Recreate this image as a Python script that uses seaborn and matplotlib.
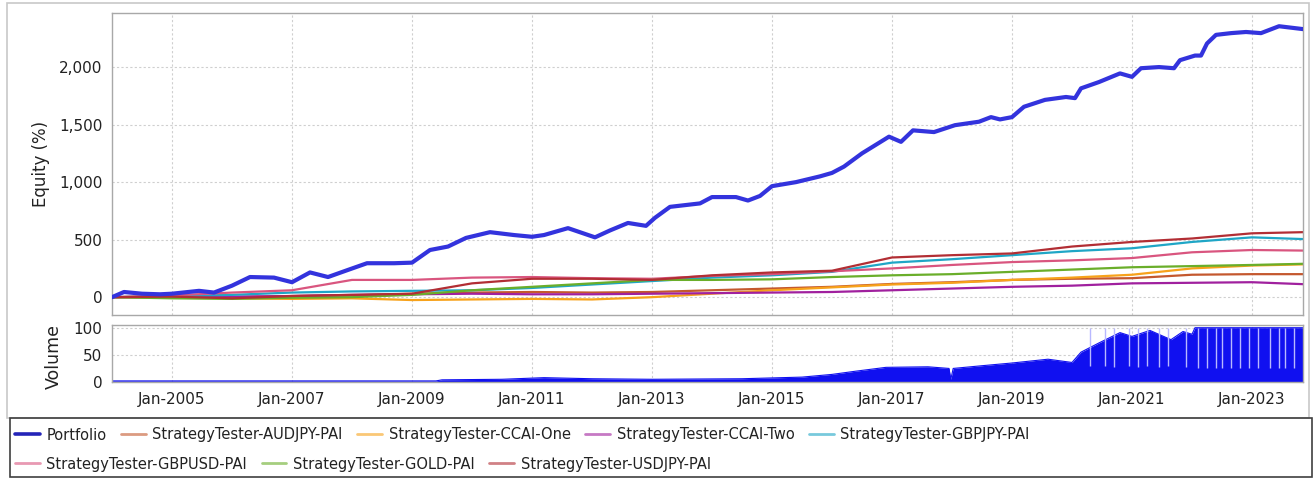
import matplotlib
matplotlib.use("Agg")
import matplotlib.pyplot as plt
from matplotlib.lines import Line2D
from matplotlib.patches import Rectangle
from matplotlib.ticker import FuncFormatter
import seaborn as sns
import pandas as pd

# ---------------- data ----------------
portfolio_years = [2004.00, 2004.20, 2004.50, 2004.80, 2005.00, 2005.45, 2005.70, 2006.00,
                   2006.30, 2006.70, 2007.00, 2007.30, 2007.60, 2007.95, 2008.25, 2008.70,
                   2009.00, 2009.30, 2009.60, 2009.90, 2010.30, 2010.70, 2011.00, 2011.20,
                   2011.60, 2012.05, 2012.30, 2012.60, 2012.90, 2013.05, 2013.30, 2013.80,
                   2014.00, 2014.40, 2014.60, 2014.80, 2015.00, 2015.40, 2015.80, 2016.00,
                   2016.20, 2016.50, 2016.95, 2017.15, 2017.35, 2017.70, 2018.05, 2018.45,
                   2018.65, 2018.80, 2019.00, 2019.20, 2019.55, 2019.90, 2020.05, 2020.15,
                   2020.45, 2020.80, 2021.00, 2021.15, 2021.45, 2021.70, 2021.80, 2022.05,
                   2022.15, 2022.25, 2022.40, 2022.65, 2022.90, 2023.15, 2023.45, 2023.85]
portfolio_equity = [0, 45, 30, 25, 30, 55, 40, 100,
                    175, 170, 130, 215, 175, 240, 295, 295,
                    300, 410, 440, 515, 565, 540, 525, 540,
                    600, 520, 580, 645, 620, 690, 785, 815,
                    870, 870, 840, 880, 965, 1000, 1050, 1080,
                    1135, 1250, 1395, 1350, 1450, 1435, 1495, 1525,
                    1565, 1545, 1565, 1655, 1715, 1740, 1730, 1815,
                    1870, 1945, 1915, 1990, 2000, 1990, 2060, 2100,
                    2100, 2205, 2280, 2295, 2305, 2295, 2355, 2330]

strategy_years = [2004, 2005, 2006, 2007, 2008, 2009, 2010, 2011, 2012, 2013, 2014,
                  2015, 2016, 2017, 2018, 2019, 2020, 2021, 2022, 2023, 2023.85]
audjpy_equity = [0, 5, 0, 10, 15, 30, 40, 45, 40, 45, 60, 75, 90, 115, 130, 150, 160, 165, 195, 200, 200]
ccai_one_equity = [0, -5, -10, -15, -10, -25, -20, -15, -20, 0, 30, 60, 85, 110, 125, 150, 170, 195, 250, 275, 285]
ccai_two_equity = [0, 0, 5, 10, 20, 25, 30, 25, 25, 30, 35, 40, 45, 60, 75, 90, 100, 120, 125, 130, 113]
gbpjpy_equity = [0, 10, 20, 40, 50, 55, 60, 80, 110, 140, 170, 190, 220, 300, 330, 365, 400, 425, 480, 520, 505]
gbpusd_equity = [0, 15, 40, 60, 150, 150, 170, 175, 165, 160, 185, 200, 225, 250, 280, 305, 320, 340, 390, 410, 405]
gold_equity = [0, -10, -15, -5, 0, 20, 60, 90, 120, 150, 150, 155, 175, 190, 200, 220, 240, 260, 270, 280, 290]
usdjpy_equity = [0, 5, -10, 10, 20, 30, 120, 160, 160, 150, 190, 215, 230, 345, 365, 380, 440, 480, 510, 555, 565]

volume_years = [2004.0, 2009.4, 2009.5, 2010.5, 2011.2, 2012.0, 2013.0, 2014.5, 2015.5, 2016.0,
                2016.4, 2016.9, 2017.6, 2017.95, 2017.98, 2018.02, 2018.5, 2019.0, 2019.6, 2020.0,
                2020.15, 2020.45, 2020.8, 2021.0, 2021.3, 2021.65, 2021.85, 2022.0, 2022.05, 2023.85]
volume_values = [2, 2, 4, 5, 8, 6, 5, 6, 9, 14,
                 20, 27, 28, 25, 5, 25, 30, 35, 42, 36,
                 55, 72, 91, 84, 95, 78, 93, 88, 100, 100]
volume_gap_years = [2020.30, 2020.55, 2020.70, 2020.95, 2021.10, 2021.25, 2021.45, 2021.60,
                    2021.90, 2022.10, 2022.25, 2022.40, 2022.50, 2022.65, 2022.80, 2022.95,
                    2023.10, 2023.30, 2023.45, 2023.55, 2023.70]
volume_gap_levels = [30, 30, 28, 30, 28, 30, 28, 30, 28, 25, 25, 25, 25, 25, 25, 25, 25, 25, 25, 25, 25]

series_names = ["Portfolio", "StrategyTester-AUDJPY-PAI", "StrategyTester-CCAI-One",
                "StrategyTester-CCAI-Two", "StrategyTester-GBPJPY-PAI",
                "StrategyTester-GBPUSD-PAI", "StrategyTester-GOLD-PAI", "StrategyTester-USDJPY-PAI"]
tick_years = [2005, 2007, 2009, 2011, 2013, 2015, 2017, 2019, 2021, 2023]
tick_labels = ["Jan-2005", "Jan-2007", "Jan-2009", "Jan-2011", "Jan-2013",
               "Jan-2015", "Jan-2017", "Jan-2019", "Jan-2021", "Jan-2023"]
equity_ticks = [0, 500, 1000, 1500, 2000]
volume_ticks = [0, 50, 100]

# ---------------- styling ----------------
colors = {
    "Portfolio": "#3333DD",
    "StrategyTester-AUDJPY-PAI": "#C4582E",
    "StrategyTester-CCAI-One": "#F7A21B",
    "StrategyTester-CCAI-Two": "#A0209E",
    "StrategyTester-GBPJPY-PAI": "#1FA6C6",
    "StrategyTester-GBPUSD-PAI": "#D9557F",
    "StrategyTester-GOLD-PAI": "#6AAE2A",
    "StrategyTester-USDJPY-PAI": "#B22E34",
}

sns.set_theme(style="white")
plt.rcParams["font.family"] = ["DejaVu Sans"]

W, H = 1316, 479
fig = plt.figure(figsize=(W / 100, H / 100), dpi=100)
fig.patch.set_facecolor("white")

def fx(px):
    return px / W

def fy(py):
    return 1 - py / H

ax = fig.add_axes([fx(112), fy(315), fx(1303 - 112), (315 - 13) / H])
axv = fig.add_axes([fx(112), fy(382), fx(1303 - 112), (382 - 325) / H], sharex=ax)

strategy_data = {
    "StrategyTester-AUDJPY-PAI": audjpy_equity,
    "StrategyTester-CCAI-One": ccai_one_equity,
    "StrategyTester-CCAI-Two": ccai_two_equity,
    "StrategyTester-GBPJPY-PAI": gbpjpy_equity,
    "StrategyTester-GBPUSD-PAI": gbpusd_equity,
    "StrategyTester-GOLD-PAI": gold_equity,
    "StrategyTester-USDJPY-PAI": usdjpy_equity,
}
long_rows = []
for name, vals in strategy_data.items():
    for yr, v in zip(strategy_years, vals):
        long_rows.append({"year": yr, "equity": v, "series": name})
df_strat = pd.DataFrame(long_rows)
df_port = pd.DataFrame({"year": portfolio_years, "equity": portfolio_equity})

sns.lineplot(data=df_strat, x="year", y="equity", hue="series", palette=colors,
             linewidth=1.6, ax=ax, legend=False, sort=False)
sns.lineplot(data=df_port, x="year", y="equity", color=colors["Portfolio"],
             linewidth=3.0, ax=ax, legend=False, sort=False, zorder=5)

ax.set_xlim(2004.0, 2023.85)
ax.set_ylim(-155, 2470)
ax.set_yticks(equity_ticks)
ax.yaxis.set_major_formatter(FuncFormatter(lambda v, p: f"{int(v):,}"))
ax.set_xticks(tick_years)
ax.tick_params(axis="x", labelbottom=False, length=0)
ax.set_xlabel("")
ax.set_ylabel("Equity (%)", fontsize=12, color="#222222")
ax.yaxis.set_label_coords(-0.052, 0.5)

# volume panel
df_vol = pd.DataFrame({"year": volume_years, "volume": volume_values})
axv.fill_between(df_vol["year"], 0, df_vol["volume"], color="#1010F0", linewidth=0)
sns.lineplot(data=df_vol, x="year", y="volume", color="#1010F0", linewidth=0.8, ax=axv, legend=False)
axv.vlines(volume_gap_years, volume_gap_levels, [100] * len(volume_gap_years),
           color="#B8B8FF", linewidth=1.0, zorder=3)
axv.set_ylim(0, 105)
axv.set_yticks(volume_ticks)
axv.set_xticks(tick_years)
axv.set_xticklabels(tick_labels)
axv.set_xlabel("")
axv.set_ylabel("Volume", fontsize=12.5, color="#222222")
axv.yaxis.set_label_coords(-0.041, 0.45)

for a in (ax, axv):
    a.set_facecolor("white")
    a.grid(True, color="#CFCFCF", linestyle=(0, (2, 2)), linewidth=0.8)
    a.set_axisbelow(True)
    for s in a.spines.values():
        s.set_color("#A8A8A8")
        s.set_linewidth(1.0)
    a.tick_params(axis="y", labelsize=11, length=2, color="#A8A8A8", pad=5, labelcolor="#222222")
axv.tick_params(axis="x", labelsize=11, length=2, color="#A8A8A8", pad=5, labelcolor="#222222")

# outer panel border and legend box
fig.patches.append(Rectangle((fx(7), fy(418)), fx(1309 - 7), (418 - 3) / H,
                             transform=fig.transFigure, fill=False, edgecolor="#C8C8C8",
                             linewidth=1.2))
fig.patches.append(Rectangle((fx(10), fy(477)), fx(1312 - 10), (477 - 418) / H,
                             transform=fig.transFigure, fill=False, edgecolor="#404040",
                             linewidth=1.2))

def handle(name):
    if name == "Portfolio":
        return Line2D([], [], color="#2424B8", linewidth=2.6)
    return Line2D([], [], color=colors[name], linewidth=2.0, alpha=0.6)

row1 = series_names[:5]
row2 = series_names[5:]
leg_kw = dict(frameon=False, fontsize=10.5, handlelength=1.7, handletextpad=0.45,
              columnspacing=1.0, borderpad=0, borderaxespad=0, loc="center left")
leg1 = fig.legend([handle(n) for n in row1], row1, ncol=5,
                  bbox_to_anchor=(fx(15), fy(435)), **leg_kw)
leg2 = fig.legend([handle(n) for n in row2], row2, ncol=3,
                  bbox_to_anchor=(fx(15), fy(464)), **leg_kw)
for lg in (leg1, leg2):
    for t in lg.get_texts():
        t.set_color("#222222")

fig.savefig("out.png", dpi=100)
